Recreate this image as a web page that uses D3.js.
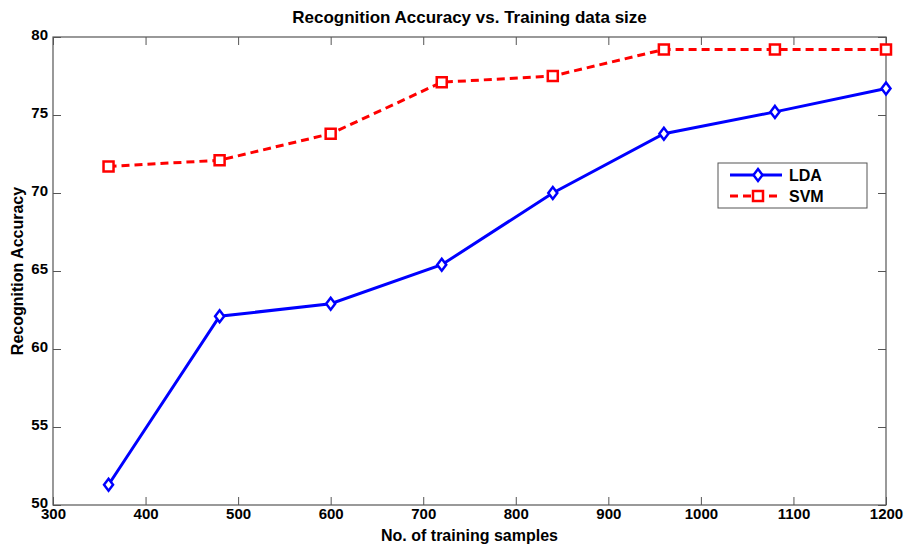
<!DOCTYPE html>
<html>
<head>
<meta charset="utf-8">
<script src="https://cdn.jsdelivr.net/npm/d3@7"></script>
<style>
body { margin: 0; background: #fff; }
text { font-family: "Liberation Sans", Arial, sans-serif; font-weight: bold; }
</style>
</head>
<body>
<script>
// data
var samples = [360, 480, 600, 720, 840, 960, 1080, 1200];
var lda = [51.3, 62.1, 62.9, 65.4, 70.0, 73.8, 75.2, 76.7];
var svm = [71.7, 72.1, 73.8, 77.1, 77.5, 79.2, 79.2, 79.2];
var xTicks = [300, 400, 500, 600, 700, 800, 900, 1000, 1100, 1200];
var yTicks = [50, 55, 60, 65, 70, 75, 80];
var seriesNames = ["LDA", "SVM"];

var W = 906, H = 548;
var margin = { top: 37, right: 20, bottom: 43, left: 53 },
    width = W - margin.left - margin.right,
    height = H - margin.top - margin.bottom;

var x = d3.scaleLinear().domain([300, 1200]).range([0, width]);
var y = d3.scaleLinear().domain([50, 80]).range([height, 0]);

var svg = d3.select("body").append("svg")
    .attr("width", W)
    .attr("height", H);
var g = svg.append("g")
    .attr("transform", "translate(" + margin.left + "," + margin.top + ")");

// box
g.append("rect")
    .attr("width", width).attr("height", height)
    .attr("fill", "none").attr("stroke", "#555").attr("stroke-width", 1.2);

// axes with inward ticks, mirrored on top/right
var fmt = d3.format("d");
var axisB = g.append("g").attr("transform", "translate(0," + height + ")")
    .call(d3.axisBottom(x).tickValues(xTicks).tickSizeInner(-8).tickSizeOuter(0).tickPadding(6).tickFormat(fmt));
var axisT = g.append("g")
    .call(d3.axisTop(x).tickValues(xTicks).tickSizeInner(-8).tickSizeOuter(0).tickFormat(""));
var axisL = g.append("g")
    .call(d3.axisLeft(y).tickValues(yTicks).tickSizeInner(-8).tickSizeOuter(0).tickPadding(5).tickFormat(fmt));
var axisR = g.append("g").attr("transform", "translate(" + width + ",0)")
    .call(d3.axisRight(y).tickValues(yTicks).tickSizeInner(-8).tickSizeOuter(0).tickFormat(""));

[axisB, axisT, axisL, axisR].forEach(function(a) {
    a.select(".domain").remove();
    a.selectAll("line").attr("stroke", "#555");
    a.selectAll("text").attr("fill", "#000").style("font-size", "15px")
        .style("font-family", '"Liberation Sans", Arial, sans-serif')
        .style("font-weight", "bold");
});
axisB.selectAll("text").attr("dy", "0.55em");
axisL.selectAll("text").attr("dy", "0.15em");

// titles
svg.append("text").attr("x", margin.left + width / 2).attr("y", 23)
    .attr("text-anchor", "middle").style("font-size", "17px")
    .text("Recognition Accuracy vs. Training data size");
svg.append("text").attr("x", margin.left + width / 2).attr("y", 541)
    .attr("text-anchor", "middle").style("font-size", "16px")
    .text("No. of training samples");
svg.append("text")
    .attr("transform", "translate(23," + (margin.top + height / 2) + ") rotate(-90)")
    .attr("text-anchor", "middle").style("font-size", "16px")
    .text("Recognition Accuracy");

var line = d3.line()
    .x(function(d) { return x(d[0]); })
    .y(function(d) { return y(d[1]); });

var ldaPts = samples.map(function(s, i) { return [s, lda[i]]; });
var svmPts = samples.map(function(s, i) { return [s, svm[i]]; });

var diamond = "M0,-6L4.5,0L0,6L-4.5,0Z";
var square = "M-5,-5H5V5H-5Z";

// LDA
g.append("path").datum(ldaPts).attr("d", line)
    .attr("fill", "none").attr("stroke", "#0000ff").attr("stroke-width", 3);
g.selectAll(".lda").data(ldaPts).enter().append("path")
    .attr("class", "lda")
    .attr("transform", function(d) { return "translate(" + x(d[0]) + "," + y(d[1]) + ")"; })
    .attr("d", diamond)
    .attr("fill", "#fff").attr("stroke", "#0000ff").attr("stroke-width", 2.5);

// SVM
g.append("path").datum(svmPts).attr("d", line)
    .attr("fill", "none").attr("stroke", "#ff0000").attr("stroke-width", 3)
    .attr("stroke-dasharray", "8,5");
g.selectAll(".svm").data(svmPts).enter().append("path")
    .attr("class", "svm")
    .attr("transform", function(d) { return "translate(" + x(d[0]) + "," + y(d[1]) + ")"; })
    .attr("d", square)
    .attr("fill", "#fff").attr("stroke", "#ff0000").attr("stroke-width", 2.5);

// legend
var leg = svg.append("g").attr("transform", "translate(718,163)");
leg.append("rect").attr("width", 149).attr("height", 45)
    .attr("fill", "#fff").attr("stroke", "#555").attr("stroke-width", 1);
var styles = [
    { color: "#0000ff", dash: null, mark: diamond },
    { color: "#ff0000", dash: "8,5", mark: square }
];
seriesNames.forEach(function(n, i) {
    var yy = 12 + i * 21;
    leg.append("line").attr("x1", 12).attr("x2", 64).attr("y1", yy).attr("y2", yy)
        .attr("stroke", styles[i].color).attr("stroke-width", 3)
        .attr("stroke-dasharray", styles[i].dash);
    leg.append("path").attr("transform", "translate(40," + yy + ")")
        .attr("d", styles[i].mark)
        .attr("fill", "#fff").attr("stroke", styles[i].color).attr("stroke-width", 2.5);
    leg.append("text").attr("x", 71).attr("y", yy + 6)
        .style("font-size", "16px").text(n);
});
</script>
</body>
</html>
